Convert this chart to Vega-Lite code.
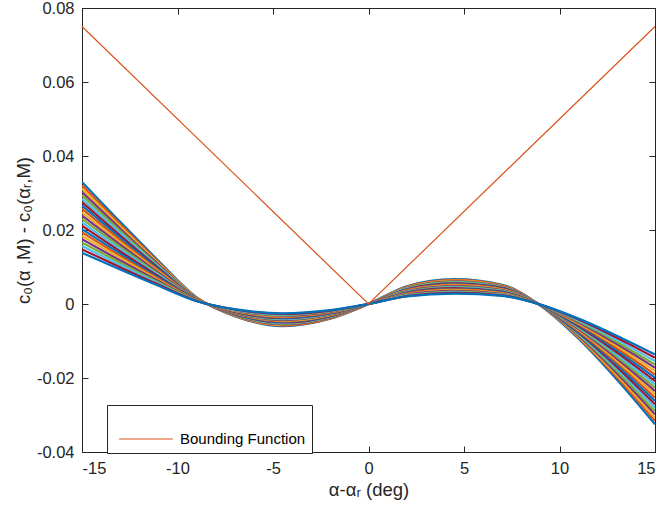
{
 "$schema": "https://vega.github.io/schema/vega-lite/v6.json",
 "width": 573,
 "height": 444,
 "autosize": {"type": "none"},
 "padding": {"left": 82, "top": 8, "right": 10, "bottom": 62},
 "background": "white",
 "config": {
  "view": {"stroke": "#262626", "strokeWidth": 1},
  "font": "Liberation Sans",
  "axis": {
   "domainColor": "#262626", "tickColor": "#262626", "labelColor": "#262626", "titleColor": "#262626",
   "labelFont": "Liberation Sans", "titleFont": "Liberation Sans", "labelFontSize": 16.5, "titleFontSize": 18.5,
   "titleFontWeight": "normal", "grid": false, "tickSize": -6, "labelPadding": 14
  }
 },
 "datasets": {
  "curves": [
{"c":0,"x":-15,"y":0.033},{"c":0,"x":-13,"y":0.0222},{"c":0,"x":-11,"y":0.0117},{"c":0,"x":-9,"y":0.0018},{"c":0,"x":-7,"y":-0.0033},{"c":0,"x":-4.5,"y":-0.006},{"c":0,"x":-2,"y":-0.004},{"c":0,"x":0,"y":0},{"c":0,"x":2,"y":0.0048},{"c":0,"x":4.5,"y":0.0067},{"c":0,"x":7,"y":0.0052},{"c":0,"x":9,"y":-0.0004},{"c":0,"x":11,"y":-0.0094},{"c":0,"x":13,"y":-0.0204},{"c":0,"x":15,"y":-0.0325},
{"c":1,"x":-15,"y":0.03208},{"c":1,"x":-13,"y":0.02158},{"c":1,"x":-11,"y":0.01137},{"c":1,"x":-9,"y":0.00175},{"c":1,"x":-7,"y":-0.00321},{"c":1,"x":-4.5,"y":-0.00583},{"c":1,"x":-2,"y":-0.00389},{"c":1,"x":0,"y":0},{"c":1,"x":2,"y":0.00467},{"c":1,"x":4.5,"y":0.00651},{"c":1,"x":7,"y":0.00505},{"c":1,"x":9,"y":-0.00039},{"c":1,"x":11,"y":-0.00914},{"c":1,"x":13,"y":-0.01983},{"c":1,"x":15,"y":-0.03159},
{"c":2,"x":-15,"y":0.03119},{"c":2,"x":-13,"y":0.02098},{"c":2,"x":-11,"y":0.01106},{"c":2,"x":-9,"y":0.0017},{"c":2,"x":-7,"y":-0.00312},{"c":2,"x":-4.5,"y":-0.00567},{"c":2,"x":-2,"y":-0.00378},{"c":2,"x":0,"y":0},{"c":2,"x":2,"y":0.00454},{"c":2,"x":4.5,"y":0.00633},{"c":2,"x":7,"y":0.00491},{"c":2,"x":9,"y":-0.00038},{"c":2,"x":11,"y":-0.00888},{"c":2,"x":13,"y":-0.01928},{"c":2,"x":15,"y":-0.03071},
{"c":3,"x":-15,"y":0.03026},{"c":3,"x":-13,"y":0.02036},{"c":3,"x":-11,"y":0.01073},{"c":3,"x":-9,"y":0.00165},{"c":3,"x":-7,"y":-0.00303},{"c":3,"x":-4.5,"y":-0.0055},{"c":3,"x":-2,"y":-0.00367},{"c":3,"x":0,"y":0},{"c":3,"x":2,"y":0.0044},{"c":3,"x":4.5,"y":0.00614},{"c":3,"x":7,"y":0.00477},{"c":3,"x":9,"y":-0.00037},{"c":3,"x":11,"y":-0.00862},{"c":3,"x":13,"y":-0.01871},{"c":3,"x":15,"y":-0.0298},
{"c":4,"x":-15,"y":0.02937},{"c":4,"x":-13,"y":0.01976},{"c":4,"x":-11,"y":0.01041},{"c":4,"x":-9,"y":0.0016},{"c":4,"x":-7,"y":-0.00294},{"c":4,"x":-4.5,"y":-0.00534},{"c":4,"x":-2,"y":-0.00356},{"c":4,"x":0,"y":0},{"c":4,"x":2,"y":0.00427},{"c":4,"x":4.5,"y":0.00596},{"c":4,"x":7,"y":0.00463},{"c":4,"x":9,"y":-0.00036},{"c":4,"x":11,"y":-0.00837},{"c":4,"x":13,"y":-0.01816},{"c":4,"x":15,"y":-0.02893},
{"c":5,"x":-15,"y":0.02845},{"c":5,"x":-13,"y":0.01914},{"c":5,"x":-11,"y":0.01009},{"c":5,"x":-9,"y":0.00155},{"c":5,"x":-7,"y":-0.00284},{"c":5,"x":-4.5,"y":-0.00517},{"c":5,"x":-2,"y":-0.00345},{"c":5,"x":0,"y":0},{"c":5,"x":2,"y":0.00414},{"c":5,"x":4.5,"y":0.00578},{"c":5,"x":7,"y":0.00448},{"c":5,"x":9,"y":-0.00034},{"c":5,"x":11,"y":-0.0081},{"c":5,"x":13,"y":-0.01758},{"c":5,"x":15,"y":-0.02802},
{"c":6,"x":-15,"y":0.02752},{"c":6,"x":-13,"y":0.01851},{"c":6,"x":-11,"y":0.00976},{"c":6,"x":-9,"y":0.0015},{"c":6,"x":-7,"y":-0.00275},{"c":6,"x":-4.5,"y":-0.005},{"c":6,"x":-2,"y":-0.00334},{"c":6,"x":0,"y":0},{"c":6,"x":2,"y":0.004},{"c":6,"x":4.5,"y":0.00559},{"c":6,"x":7,"y":0.00434},{"c":6,"x":9,"y":-0.00033},{"c":6,"x":11,"y":-0.00784},{"c":6,"x":13,"y":-0.01701},{"c":6,"x":15,"y":-0.02711},
{"c":7,"x":-15,"y":0.02663},{"c":7,"x":-13,"y":0.01792},{"c":7,"x":-11,"y":0.00944},{"c":7,"x":-9,"y":0.00145},{"c":7,"x":-7,"y":-0.00266},{"c":7,"x":-4.5,"y":-0.00484},{"c":7,"x":-2,"y":-0.00323},{"c":7,"x":0,"y":0},{"c":7,"x":2,"y":0.00387},{"c":7,"x":4.5,"y":0.00541},{"c":7,"x":7,"y":0.0042},{"c":7,"x":9,"y":-0.00032},{"c":7,"x":11,"y":-0.00759},{"c":7,"x":13,"y":-0.01646},{"c":7,"x":15,"y":-0.02623},
{"c":8,"x":-15,"y":0.02571},{"c":8,"x":-13,"y":0.01729},{"c":8,"x":-11,"y":0.00911},{"c":8,"x":-9,"y":0.0014},{"c":8,"x":-7,"y":-0.00257},{"c":8,"x":-4.5,"y":-0.00467},{"c":8,"x":-2,"y":-0.00312},{"c":8,"x":0,"y":0},{"c":8,"x":2,"y":0.00374},{"c":8,"x":4.5,"y":0.00522},{"c":8,"x":7,"y":0.00405},{"c":8,"x":9,"y":-0.00031},{"c":8,"x":11,"y":-0.00732},{"c":8,"x":13,"y":-0.01589},{"c":8,"x":15,"y":-0.02532},
{"c":9,"x":-15,"y":0.02478},{"c":9,"x":-13,"y":0.01667},{"c":9,"x":-11,"y":0.00879},{"c":9,"x":-9,"y":0.00135},{"c":9,"x":-7,"y":-0.00248},{"c":9,"x":-4.5,"y":-0.00451},{"c":9,"x":-2,"y":-0.003},{"c":9,"x":0,"y":0},{"c":9,"x":2,"y":0.0036},{"c":9,"x":4.5,"y":0.00503},{"c":9,"x":7,"y":0.00391},{"c":9,"x":9,"y":-0.0003},{"c":9,"x":11,"y":-0.00706},{"c":9,"x":13,"y":-0.01532},{"c":9,"x":15,"y":-0.02441},
{"c":10,"x":-15,"y":0.02389},{"c":10,"x":-13,"y":0.01607},{"c":10,"x":-11,"y":0.00847},{"c":10,"x":-9,"y":0.0013},{"c":10,"x":-7,"y":-0.00239},{"c":10,"x":-4.5,"y":-0.00434},{"c":10,"x":-2,"y":-0.0029},{"c":10,"x":0,"y":0},{"c":10,"x":2,"y":0.00348},{"c":10,"x":4.5,"y":0.00485},{"c":10,"x":7,"y":0.00376},{"c":10,"x":9,"y":-0.00029},{"c":10,"x":11,"y":-0.00681},{"c":10,"x":13,"y":-0.01477},{"c":10,"x":15,"y":-0.02353},
{"c":11,"x":-15,"y":0.02297},{"c":11,"x":-13,"y":0.01545},{"c":11,"x":-11,"y":0.00814},{"c":11,"x":-9,"y":0.00125},{"c":11,"x":-7,"y":-0.0023},{"c":11,"x":-4.5,"y":-0.00418},{"c":11,"x":-2,"y":-0.00278},{"c":11,"x":0,"y":0},{"c":11,"x":2,"y":0.00334},{"c":11,"x":4.5,"y":0.00466},{"c":11,"x":7,"y":0.00362},{"c":11,"x":9,"y":-0.00028},{"c":11,"x":11,"y":-0.00654},{"c":11,"x":13,"y":-0.0142},{"c":11,"x":15,"y":-0.02262},
{"c":12,"x":-15,"y":0.02208},{"c":12,"x":-13,"y":0.01485},{"c":12,"x":-11,"y":0.00783},{"c":12,"x":-9,"y":0.0012},{"c":12,"x":-7,"y":-0.00221},{"c":12,"x":-4.5,"y":-0.00401},{"c":12,"x":-2,"y":-0.00268},{"c":12,"x":0,"y":0},{"c":12,"x":2,"y":0.00321},{"c":12,"x":4.5,"y":0.00448},{"c":12,"x":7,"y":0.00348},{"c":12,"x":9,"y":-0.00027},{"c":12,"x":11,"y":-0.00629},{"c":12,"x":13,"y":-0.01365},{"c":12,"x":15,"y":-0.02174},
{"c":13,"x":-15,"y":0.02115},{"c":13,"x":-13,"y":0.01423},{"c":13,"x":-11,"y":0.0075},{"c":13,"x":-9,"y":0.00115},{"c":13,"x":-7,"y":-0.00212},{"c":13,"x":-4.5,"y":-0.00385},{"c":13,"x":-2,"y":-0.00256},{"c":13,"x":0,"y":0},{"c":13,"x":2,"y":0.00308},{"c":13,"x":4.5,"y":0.00429},{"c":13,"x":7,"y":0.00333},{"c":13,"x":9,"y":-0.00026},{"c":13,"x":11,"y":-0.00603},{"c":13,"x":13,"y":-0.01308},{"c":13,"x":15,"y":-0.02083},
{"c":14,"x":-15,"y":0.02023},{"c":14,"x":-13,"y":0.01361},{"c":14,"x":-11,"y":0.00717},{"c":14,"x":-9,"y":0.0011},{"c":14,"x":-7,"y":-0.00202},{"c":14,"x":-4.5,"y":-0.00368},{"c":14,"x":-2,"y":-0.00245},{"c":14,"x":0,"y":0},{"c":14,"x":2,"y":0.00294},{"c":14,"x":4.5,"y":0.00411},{"c":14,"x":7,"y":0.00319},{"c":14,"x":9,"y":-0.00025},{"c":14,"x":11,"y":-0.00576},{"c":14,"x":13,"y":-0.01251},{"c":14,"x":15,"y":-0.01992},
{"c":15,"x":-15,"y":0.01934},{"c":15,"x":-13,"y":0.01301},{"c":15,"x":-11,"y":0.00686},{"c":15,"x":-9,"y":0.00105},{"c":15,"x":-7,"y":-0.00193},{"c":15,"x":-4.5,"y":-0.00352},{"c":15,"x":-2,"y":-0.00234},{"c":15,"x":0,"y":0},{"c":15,"x":2,"y":0.00281},{"c":15,"x":4.5,"y":0.00393},{"c":15,"x":7,"y":0.00305},{"c":15,"x":9,"y":-0.00023},{"c":15,"x":11,"y":-0.00551},{"c":15,"x":13,"y":-0.01195},{"c":15,"x":15,"y":-0.01905},
{"c":16,"x":-15,"y":0.01841},{"c":16,"x":-13,"y":0.01239},{"c":16,"x":-11,"y":0.00653},{"c":16,"x":-9,"y":0.001},{"c":16,"x":-7,"y":-0.00184},{"c":16,"x":-4.5,"y":-0.00335},{"c":16,"x":-2,"y":-0.00223},{"c":16,"x":0,"y":0},{"c":16,"x":2,"y":0.00268},{"c":16,"x":4.5,"y":0.00374},{"c":16,"x":7,"y":0.0029},{"c":16,"x":9,"y":-0.00022},{"c":16,"x":11,"y":-0.00525},{"c":16,"x":13,"y":-0.01138},{"c":16,"x":15,"y":-0.01814},
{"c":17,"x":-15,"y":0.01749},{"c":17,"x":-13,"y":0.01177},{"c":17,"x":-11,"y":0.0062},{"c":17,"x":-9,"y":0.00095},{"c":17,"x":-7,"y":-0.00175},{"c":17,"x":-4.5,"y":-0.00318},{"c":17,"x":-2,"y":-0.00212},{"c":17,"x":0,"y":0},{"c":17,"x":2,"y":0.00254},{"c":17,"x":4.5,"y":0.00355},{"c":17,"x":7,"y":0.00276},{"c":17,"x":9,"y":-0.00021},{"c":17,"x":11,"y":-0.00498},{"c":17,"x":13,"y":-0.01081},{"c":17,"x":15,"y":-0.01723},
{"c":18,"x":-15,"y":0.0166},{"c":18,"x":-13,"y":0.01117},{"c":18,"x":-11,"y":0.00589},{"c":18,"x":-9,"y":0.00091},{"c":18,"x":-7,"y":-0.00166},{"c":18,"x":-4.5,"y":-0.00302},{"c":18,"x":-2,"y":-0.00201},{"c":18,"x":0,"y":0},{"c":18,"x":2,"y":0.00241},{"c":18,"x":4.5,"y":0.00337},{"c":18,"x":7,"y":0.00262},{"c":18,"x":9,"y":-0.0002},{"c":18,"x":11,"y":-0.00473},{"c":18,"x":13,"y":-0.01026},{"c":18,"x":15,"y":-0.01635},
{"c":19,"x":-15,"y":0.01568},{"c":19,"x":-13,"y":0.01055},{"c":19,"x":-11,"y":0.00556},{"c":19,"x":-9,"y":0.00086},{"c":19,"x":-7,"y":-0.00157},{"c":19,"x":-4.5,"y":-0.00285},{"c":19,"x":-2,"y":-0.0019},{"c":19,"x":0,"y":0},{"c":19,"x":2,"y":0.00228},{"c":19,"x":4.5,"y":0.00318},{"c":19,"x":7,"y":0.00247},{"c":19,"x":9,"y":-0.00019},{"c":19,"x":11,"y":-0.00447},{"c":19,"x":13,"y":-0.00969},{"c":19,"x":15,"y":-0.01544},
{"c":20,"x":-15,"y":0.01478},{"c":20,"x":-13,"y":0.00995},{"c":20,"x":-11,"y":0.00524},{"c":20,"x":-9,"y":0.00081},{"c":20,"x":-7,"y":-0.00148},{"c":20,"x":-4.5,"y":-0.00269},{"c":20,"x":-2,"y":-0.00179},{"c":20,"x":0,"y":0},{"c":20,"x":2,"y":0.00215},{"c":20,"x":4.5,"y":0.003},{"c":20,"x":7,"y":0.00233},{"c":20,"x":9,"y":-0.00018},{"c":20,"x":11,"y":-0.00421},{"c":20,"x":13,"y":-0.00914},{"c":20,"x":15,"y":-0.01456},
{"c":21,"x":-15,"y":0.01386},{"c":21,"x":-13,"y":0.00932},{"c":21,"x":-11,"y":0.00491},{"c":21,"x":-9,"y":0.00076},{"c":21,"x":-7,"y":-0.00139},{"c":21,"x":-4.5,"y":-0.00252},{"c":21,"x":-2,"y":-0.00168},{"c":21,"x":0,"y":0},{"c":21,"x":2,"y":0.00202},{"c":21,"x":4.5,"y":0.00281},{"c":21,"x":7,"y":0.00218},{"c":21,"x":9,"y":-0.00017},{"c":21,"x":11,"y":-0.00395},{"c":21,"x":13,"y":-0.00857},{"c":21,"x":15,"y":-0.01365}
  ],
  "bound": [
   {"name": "Bounding Function", "x": -15, "y": 0.075},
   {"name": "Bounding Function", "x": 0, "y": 0},
   {"name": "Bounding Function", "x": 15, "y": 0.075}
  ]
 },
 "layer": [
  {
   "data": {"name": "curves"},
   "mark": {"type": "line", "interpolate": "monotone", "strokeWidth": 2.2, "clip": true},
   "encoding": {
    "x": {"field": "x", "type": "quantitative", "scale": {"domain": [-15, 15], "nice": false, "zero": false},
          "axis": {"orient": "bottom", "values": [-15, -10, -5, 0, 5, 10, 15], "title": "α-αᵣ (deg)", "titlePadding": 4,
                   "labelExpr": "datum.value < 0 ? '-' + format(-datum.value, 'd') : format(datum.value, 'd')"}},
    "y": {"field": "y", "type": "quantitative", "scale": {"domain": [-0.04, 0.08], "nice": false, "zero": false},
          "axis": {"orient": "left", "values": [-0.04, -0.02, 0, 0.02, 0.04, 0.06, 0.08], "title": "c₀(α ,M) - c₀(αᵣ,M)", "titlePadding": 3,
                   "labelExpr": "abs(datum.value) < 1e-9 ? '0' : (datum.value < 0 ? '-' + format(-datum.value, '.2f') : format(datum.value, '.2f'))"}},
    "color": {"field": "c", "type": "nominal",
              "scale": {"domain": [0,1,2,3,4,5,6,7,8,9,10,11,12,13,14,15,16,17,18,19,20,21],
                        "range": ["#0072BD","#D95319","#EDB120","#7E2F8E","#77AC30","#4DBEEE","#A2142F","#0072BD","#D95319","#EDB120","#7E2F8E","#77AC30","#4DBEEE","#A2142F","#0072BD","#D95319","#EDB120","#7E2F8E","#77AC30","#4DBEEE","#A2142F","#0072BD"]},
              "legend": null}
   }
  },
  {
   "data": {"name": "bound"},
   "mark": {"type": "line", "strokeWidth": 1.2},
   "encoding": {
    "x": {"field": "x", "type": "quantitative", "scale": {"domain": [-15, 15], "nice": false, "zero": false},
          "axis": {"orient": "top", "values": [-15, -10, -5, 0, 5, 10, 15], "labels": false, "title": null}},
    "y": {"field": "y", "type": "quantitative", "scale": {"domain": [-0.04, 0.08], "nice": false, "zero": false},
          "axis": {"orient": "right", "values": [-0.04, -0.02, 0, 0.02, 0.04, 0.06, 0.08], "labels": false, "title": null}},
    "color": {"field": "name", "type": "nominal", "scale": {"range": ["#D95319"]},
              "legend": {"orient": "none", "legendX": 25, "legendY": 397, "title": null, "symbolType": "stroke",
                         "symbolSize": 2900, "symbolStrokeWidth": 1.2, "symbolOffset": 5, "strokeColor": "#262626", "fillColor": "white",
                         "padding": 6, "labelFontSize": 15, "labelOffset": 6, "labelColor": "#000000", "labelFont": "Liberation Sans"}}
   }
  }
 ],
 "resolve": {"scale": {"color": "independent"}, "axis": {"x": "independent", "y": "independent"}}
}
